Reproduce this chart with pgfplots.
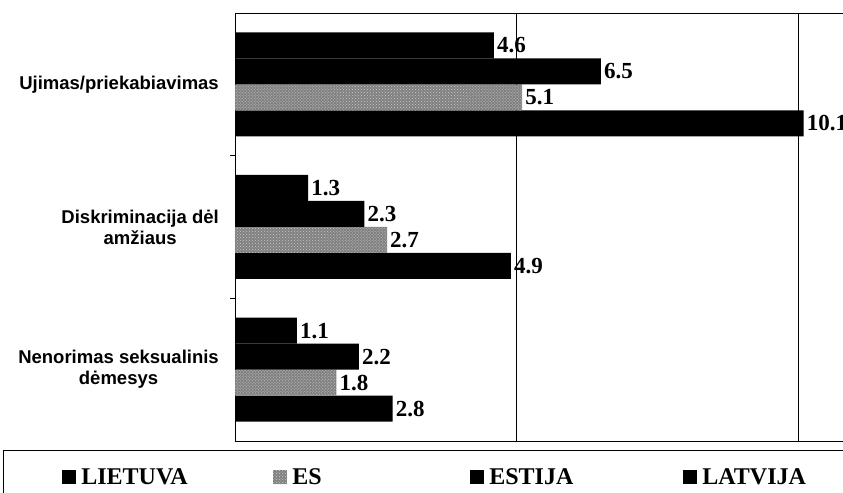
\documentclass[border=0pt]{standalone}
\usepackage{fontspec}
\setmainfont{Liberation Serif}
\newfontfamily\arialfont{Liberation Sans}
\usepackage{pgfplots}
\pgfplotsset{compat=1.18}
\usetikzlibrary{patterns}
\begin{document}
\begin{tikzpicture}
\begin{axis}[
  at={(235bp,52bp)}, anchor=south west,
  scale only axis, width=608bp, height=428bp,
  xbar=0pt, bar width=26bp,
  xmin=0, xmax=10.8, ymin=-0.5, ymax=2.5,
  axis x line=box, axis y line=left,
  axis line style={-, black, line width=0.8bp},
  xtick={5,10}, xticklabels={}, xmajorgrids,
  grid style={black, line width=0.8bp},
  ytick={0,1,2},
  yticklabels={{Nenorimas seksualinis\\dėmesys},{Diskriminacija dėl\\amžiaus},{Ujimas/priekabiavimas}},
  yticklabel style={align=center, inner sep=0pt, xshift=-16bp,
    font=\arialfont\bfseries\fontsize{18.5bp}{21bp}\selectfont},
  minor ytick={0.5,1.5}, minor tick length=5bp, major tick length=0pt,
  tick align=outside, tick style={black, line width=0.8bp},
  point meta=x,
  nodes near coords={\pgfmathprintnumber[fixed,precision=1,fixed zerofill,assume math mode=true]{\pgfplotspointmeta}},
  nodes near coords style={anchor=west, inner sep=0pt, xshift=3bp,
    font=\bfseries\fontsize{23bp}{23bp}\selectfont},
  legend columns=4,
  legend image code/.code={\fill[#1,draw=none] (0bp,-7bp) rectangle (14bp,7bp);},
  legend style={at={(axis description cs:-0.3816,-0.021)}, anchor=north west,
    draw=black, line width=0.8bp, inner xsep=59bp, inner ysep=18bp,
    column sep=0pt, nodes={inner sep=0pt},
    /tikz/every odd column/.append style={column sep=5bp},
    font=\bfseries\fontsize{24bp}{24bp}\selectfont},
]
\addplot[fill=black, draw=none] coordinates {(2.8,0) (4.9,1) (10.1,2)};
\addlegendentry{\makebox[192bp][l]{LIETUVA}}
\addplot[fill=black!50, draw=none, postaction={pattern=crosshatch dots, pattern color=black!20}] coordinates {(1.8,0) (2.7,1) (5.1,2)};
\addlegendentry{\makebox[178bp][l]{ES}}
\addplot[fill=black, draw=none] coordinates {(2.2,0) (2.3,1) (6.5,2)};
\addlegendentry{\makebox[194bp][l]{ESTIJA}}
\addplot[fill=black, draw=none] coordinates {(1.1,0) (1.3,1) (4.6,2)};
\addlegendentry{\makebox[250bp][l]{LATVIJA\rule[-30bp]{0pt}{0pt}}}
\end{axis}
\pgfresetboundingbox
\path[use as bounding box] (0bp,0bp) rectangle (843bp,493bp);
\end{tikzpicture}
\end{document}
